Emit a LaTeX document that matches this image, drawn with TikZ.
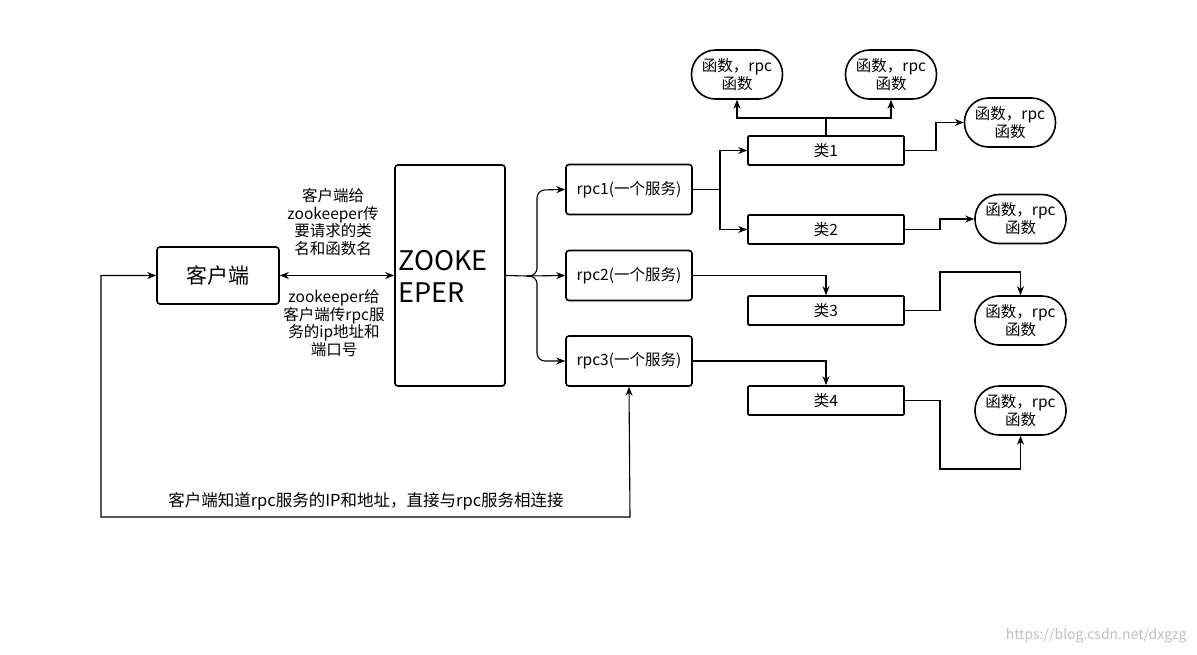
\documentclass[tikz,border=0pt]{standalone}
\usepackage{fontspec}
\setmainfont{Noto Sans CJK SC}
\usetikzlibrary{arrows.meta}
\begin{document}
\begin{tikzpicture}[x=1pt,y=-1pt,
  box/.style={draw,line width=1.6pt,rounded corners=3pt,inner sep=0pt},
  cls/.style={draw,line width=1.6pt,rounded corners=1pt,minimum width=156pt,minimum height=29pt,inner sep=0pt,font=\fontsize{15.5}{17}\selectfont},
  fn/.style={draw,line width=1.6pt,rounded corners=24pt,minimum width=91pt,minimum height=49pt,inner sep=0pt,align=center,font=\fontsize{15.5}{18}\selectfont},
  rpc/.style={box,minimum width=126pt,minimum height=50pt,font=\fontsize{15.5}{17}\selectfont},
  con/.style={line width=1.1pt},
  arr/.style={con,-{Stealth[length=9pt,width=7pt]}},
  lbl/.style={align=center,font=\fontsize{15.5}{17.5}\selectfont}]
\useasboundingbox (0,0) rectangle (1197,654);
\node[box,minimum width=122pt,minimum height=57pt,font=\fontsize{21}{24}\selectfont] (cli) at (218,275.5) {客户端};
\node[box,minimum width=110pt,minimum height=221pt] (zk) at (450,275.5) {};
\node[anchor=west,align=left,font=\fontsize{27}{32}\selectfont] (zkt) at (395,276) {ZOOKE\\EPER};
\node[rpc] (r1) at (629,189.5) {rpc1(一个服务)};
\node[rpc] (r2) at (629,275.5) {rpc2(一个服务)};
\node[rpc] (r3) at (629,361) {rpc3(一个服务)};
\node[cls] (c1) at (826,150.5) {类1};
\node[cls] (c2) at (826,229.5) {类2};
\node[cls] (c3) at (826,310.5) {类3};
\node[cls] (c4) at (826,400.5) {类4};
\node[fn] (ft1) at (737,74.5) {函数，rpc\\函数};
\node[fn] (ft2) at (891,74.5) {函数，rpc\\函数};
\node[fn] (f1) at (1010,122.5) {函数，rpc\\函数};
\node[fn] (f2) at (1020.5,219) {函数，rpc\\函数};
\node[fn] (f3) at (1020.5,320.5) {函数，rpc\\函数};
\node[fn] (f4) at (1020.5,410.5) {函数，rpc\\函数};
% client <-> zk
\draw[con,{Stealth[length=9pt,width=7pt]}-{Stealth[length=9pt,width=7pt]}] (cli.east) -- (zk.west);
\node[lbl] (l1) at (333,222) {客户端给\\zookeeper传\\要请求的类\\名和函数名};
\node[lbl] (l2) at (334,323) {zookeeper给\\客户端传rpc服\\务的ip地址和\\端口号};
% zk -> rpcs
\coordinate (zb) at (527,276);
\draw[con] (zk.east) -- (zb);
\draw[arr,rounded corners=8pt] (zb) -- (537,276) -- (537,190) -- (r1.west);
\draw[arr] (zb) -- (r2.west);
\draw[arr,rounded corners=8pt] (zb) -- (537,276) -- (537,361) -- (r3.west);
% rpc1 -> classes
\draw[arr] (r1.east) -- (720,189.5) |- (c1.west);
\draw[arr] (r1.east) -- (720,189.5) |- (c2.west);
\draw[arr] (r2.east) -| (c3.north);
\draw[arr] (r3.east) -| (c4.north);
% class1 -> functions
\draw[arr] (c1.north) -- (826,118) -| (ft1.south);
\draw[arr] (c1.north) -- (826,118) -| (ft2.south);
\draw[arr] (c1.east) -- (936,150.5) |- (f1.west);
\draw[arr] (c2.east) -- (940,229.5) |- (f2.west);
\draw[arr] (c3.east) -- (940,310.5) -- (940,272) -| (f3.north);
\draw[arr] (c4.east) -- (940,400.5) -- (940,469) -| (f4.south);
% bottom loop
\coordinate (bl) at (101,517);
\coordinate (br) at (630,517);
\draw[con,{Stealth[length=9pt,width=7pt]}-{Stealth[length=9pt,width=7pt]}] (cli.west) -- (101,275.5) -- (bl) -- (br) -- (r3.south);
\node[lbl,font=\fontsize{16.5}{18}\selectfont] (l3) at (366,501) {客户端知道rpc服务的IP和地址，直接与rpc服务相连接};
\node[text=black!25,font=\fontsize{14}{16}\selectfont,anchor=east] (wm) at (1190,636) {https://blog.csdn.net/dxgzg};
\end{tikzpicture}
\end{document}
